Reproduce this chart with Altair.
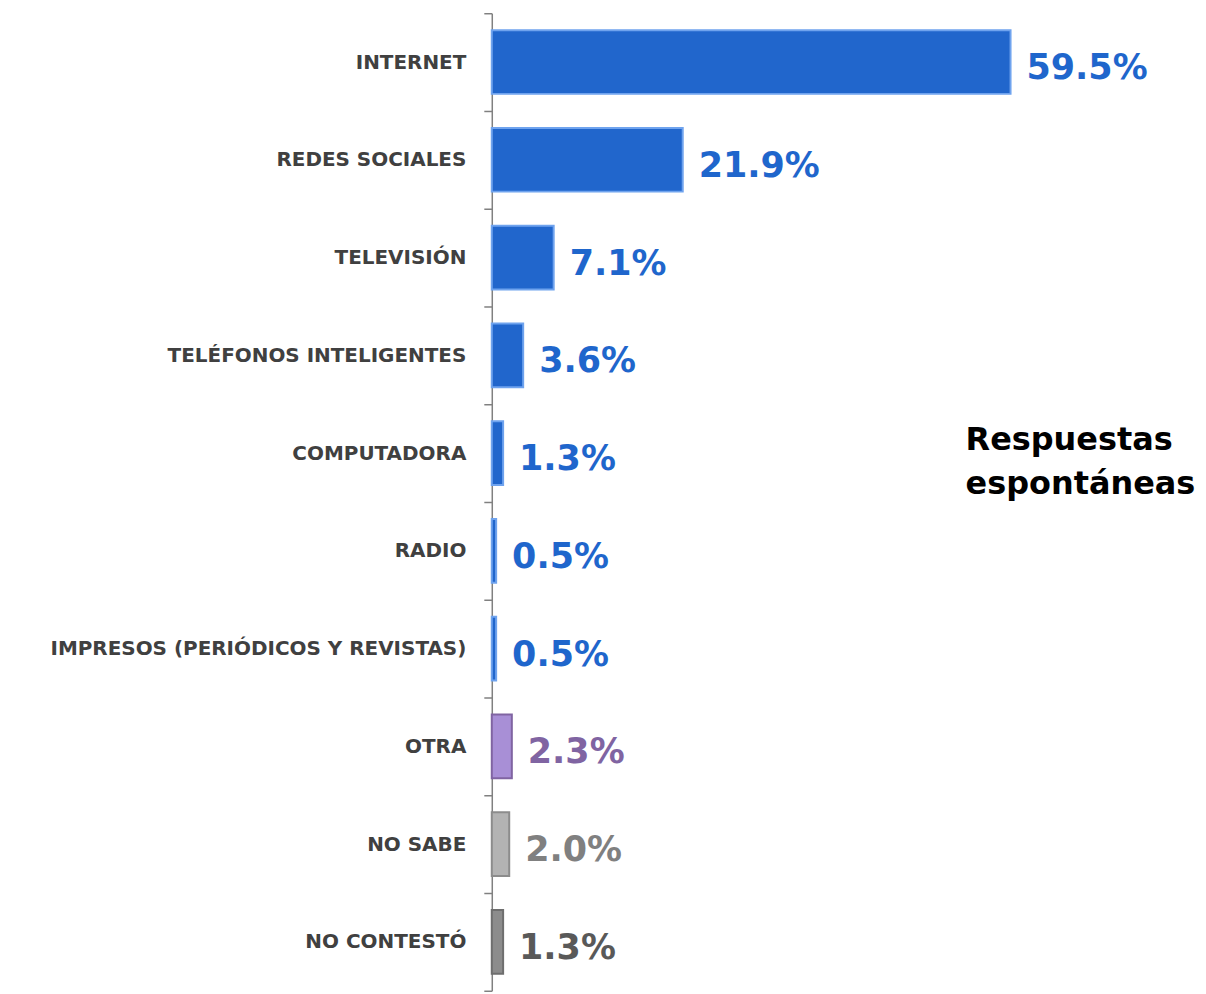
import altair as alt
import pandas as pd

categories = ["INTERNET", "REDES SOCIALES", "TELEVISIÓN", "TELÉFONOS INTELIGENTES",
              "COMPUTADORA", "RADIO", "IMPRESOS (PERIÓDICOS Y REVISTAS)", "OTRA",
              "NO SABE", "NO CONTESTÓ"]
values = [59.5, 21.9, 7.1, 3.6, 1.3, 0.5, 0.5, 2.3, 2.0, 1.3]
fills = ["#2166CC"] * 7 + ["#A88FD6", "#B3B3B3", "#8C8C8C"]
strokes = ["#6FA3EE"] * 7 + ["#8064A2", "#8C8C8C", "#6E6E6E"]
label_colors = ["#1F66CC"] * 7 + ["#8064A2", "#808080", "#595959"]

df = pd.DataFrame({
    "cat": categories,
    "val": values,
    "fill": fills,
    "stroke": strokes,
    "lc": label_colors,
    "label": [f"{v:.1f}%" for v in values],
})

x_scale = alt.Scale(domain=[0, 81], nice=False, zero=True)
y_scale = alt.Scale(domain=categories, paddingInner=0, paddingOuter=0)

base = alt.Chart(df)

bars = base.mark_bar(strokeWidth=2, height=alt.RelativeBandSize(0.65)).encode(
    x=alt.X("val:Q", scale=x_scale, axis=None),
    y=alt.Y("cat:N", scale=y_scale, sort=categories,
            axis=alt.Axis(title=None, domainColor="#808080", domainWidth=1.5,
                          tickColor="#808080", tickSize=8, tickWidth=1.5,
                          tickBand="extent", labelPadding=18,
                          labelFont="DejaVu Sans", labelFontWeight="bold",
                          labelFontSize=20, labelColor="#404040", labelLimit=600)),
    fill=alt.Fill("fill:N", scale=None),
    stroke=alt.Stroke("stroke:N", scale=None),
)

texts = base.mark_text(align="left", baseline="middle", dx=16, dy=6,
                       font="DejaVu Sans", fontWeight="bold", fontSize=35).encode(
    x=alt.X("val:Q", scale=x_scale),
    y=alt.Y("cat:N", scale=y_scale, sort=categories),
    text="label:N",
    color=alt.Color("lc:N", scale=None),
)

note_df = pd.DataFrame({"t": [["Respuestas", "espontáneas"]]})
note = alt.Chart(note_df).mark_text(align="left", baseline="middle",
                                    font="DejaVu Sans", fontWeight="bold", fontSize=32,
                                    color="#000000", lineHeight=44).encode(
    x=alt.value(475), y=alt.value(428), text="t")

chart = alt.layer(bars, texts, note).properties(
    width=708, height=980,
    background="white",
    padding={"left": 485, "top": 4, "right": 0, "bottom": 0},
    autosize=alt.AutoSizeParams(type="none"),
).configure_view(strokeWidth=0, stroke=None)

chart.save("out.html", embed_options={"renderer": "svg", "actions": False})
